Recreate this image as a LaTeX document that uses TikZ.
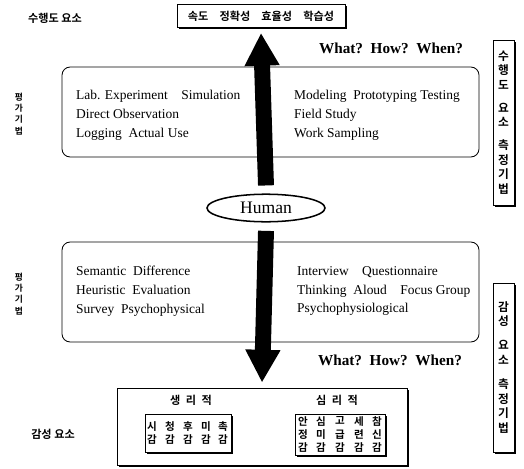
\documentclass[tikz,border=0pt]{standalone}
\usepackage{fontspec}
\setmainfont{Liberation Serif}
\newfontfamily\kr{Noto Sans CJK KR Bold}
\usetikzlibrary{arrows.meta,shapes.geometric,shadows}

\tikzset{
  shadowbox/.style={draw, fill=white, line width=0.7pt, inner sep=0pt,
    drop shadow={shadow xshift=1.6pt, shadow yshift=-1.6pt, fill=black, opacity=1}},
  methodbox/.style={draw, rounded corners=7pt, line width=0.7pt, inner sep=0pt},
  methodtext/.style={anchor=west, align=left, font=\fontsize{11.5}{16.2}\selectfont},
  krlabel/.style={font=\kr\fontsize{9.5}{11}\selectfont},
  vertlabel/.style={align=center, inner sep=0pt, font=\kr\fontsize{10}{12.5}\selectfont},
  smallvert/.style={align=center, inner sep=0pt, font=\kr\fontsize{7.5}{9.5}\selectfont},
  cell/.style={align=center, inner sep=0pt, font=\kr\fontsize{9}{11.5}\selectfont},
  question/.style={font=\bfseries\fontsize{13}{15}\selectfont},
  bigarrow/.style={line width=13.6pt, -{Triangle[length=28pt, width=28pt]}},
}

\begin{document}
\begin{tikzpicture}[x=0.03cm, y=-0.03cm]
    \useasboundingbox (0,0) rectangle (524,469);

    % Performance elements (top)
    \node[krlabel] (perflabel) at (55,18) {수행도 요소};
    \node[shadowbox, krlabel, minimum width=5.04cm, minimum height=0.69cm] (topbox) at (261,16)
        {속도\quad 정확성\quad 효율성\quad 학습성};
    \node[question] (q1) at (391,48) {What?\enspace How?\enspace When?};

    % Upper method box
    \node[methodbox, minimum width=12.51cm, minimum height=2.7cm] (upper) at (270.5,112) {};
    \node[methodtext] (upleft) at (72,115) {Lab. Experiment\quad Simulation\\Direct Observation\\Logging\enspace Actual Use};
    \node[methodtext] (upright) at (290,115) {Modeling\enspace Prototyping Testing\\Field Study\\Work Sampling};
    \node[smallvert] (evalup) at (19,114) {평\\가\\기\\법};

    % Lower method box
    \node[methodbox, minimum width=12.51cm, minimum height=3cm] (lower) at (270.5,292) {};
    \node[methodtext] (lowleft) at (72,291) {Semantic\enspace Difference\\Heuristic\enspace Evaluation\\Survey\enspace Psychophysical};
    \node[methodtext] (lowright) at (293,291) {Interview\quad Questionnaire\\Thinking\enspace Aloud\quad Focus Group\\Psychophysiological};
    \node[smallvert] (evallow) at (19,294) {평\\가\\기\\법};

    % Right side measurement boxes
    \node[shadowbox, vertlabel, minimum width=0.63cm, minimum height=4.95cm] (perfmeas) at (503.5,122.5)
        {수\\행\\도\\[7pt]요\\소\\[7pt]측\\정\\기\\법};
    \node[shadowbox, vertlabel, minimum width=0.63cm, minimum height=5.07cm] (sensemeas) at (503.5,367.5)
        {감\\성\\[8pt]요\\소\\[8pt]측\\정\\기\\법};

    % Sensibility elements (bottom)
    \node[question] (q2) at (390,360) {What?\enspace How?\enspace When?};
    \node[krlabel] (senselabel) at (53,434) {감성 요소};
    \node[shadowbox, minimum width=8.7cm, minimum height=2.31cm] (sensebox) at (262,426.5) {};
    \node[krlabel] (physlabel) at (191,400) {생\enspace 리\enspace 적};
    \node[krlabel] (psychlabel) at (337,400) {심\enspace 리\enspace 적};
    \node[shadowbox, minimum width=2.58cm, minimum height=1.14cm] (physbox) at (188,433) {};
    \node[shadowbox, minimum width=2.7cm, minimum height=1.23cm] (psychbox) at (340,434.5) {};
    \foreach \c/\x [count=\i] in {시/152,청/170,후/188,미/206,촉/223}
        \node[cell] (phys\i) at (\x,433) {\c\\감};
    \foreach \a/\b/\x [count=\i] in {안/정/303,심/미/321,고/급/340,세/련/359,참/신/377}
        \node[cell] (psych\i) at (\x,434.5) {\a\\\b\\감};

    % Human and arrows
    \node[draw, ellipse, line width=1.3pt, fill=white, minimum width=3.54cm, minimum height=0.81cm,
        font=\fontsize{15}{17}\selectfont] (human) at (266,208) {Human};
    \draw[bigarrow] ([yshift=0.24cm]human.north) -- ([yshift=-0.15cm]topbox.south);
    \draw[bigarrow] ([yshift=-0.25cm]human.south) -- ([yshift=0.15cm]sensebox.north);

\end{tikzpicture}
\end{document}
